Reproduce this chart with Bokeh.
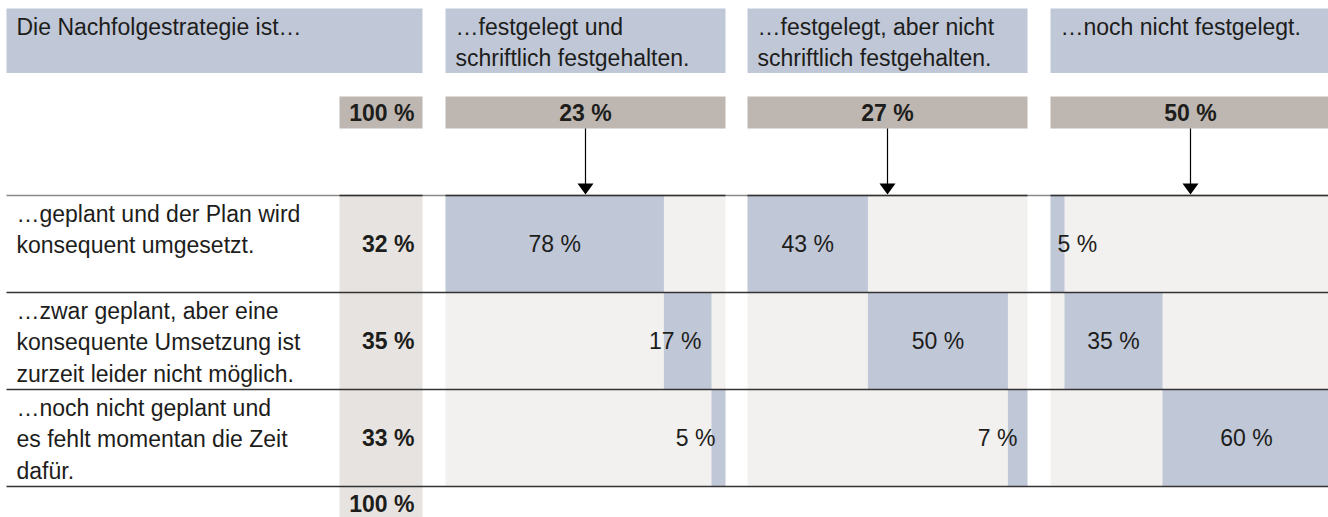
from bokeh.plotting import figure
from bokeh.models import Range1d
from bokeh.embed import file_html
from bokeh.resources import INLINE
from bokeh.core.properties import value

# ---------------- data ----------------
title_label = "Die Nachfolgestrategie ist…"
column_labels = [
    "…festgelegt und\nschriftlich festgehalten.",
    "…festgelegt, aber nicht\nschriftlich festgehalten.",
    "…noch nicht festgelegt.",
]
column_shares = [23, 27, 50]
total_share = 100
row_labels = [
    "…geplant und der Plan wird\nkonsequent umgesetzt.",
    "…zwar geplant, aber eine\nkonsequente Umsetzung ist\nzurzeit leider nicht möglich.",
    "…noch nicht geplant und\nes fehlt momentan die Zeit\ndafür.",
]
row_shares = [32, 35, 33]
values_festgelegt_schriftlich = [78, 17, 5]
values_festgelegt_nicht_schriftlich = [43, 50, 7]
values_nicht_festgelegt = [5, 35, 60]
series = [values_festgelegt_schriftlich, values_festgelegt_nicht_schriftlich, values_nicht_festgelegt]

# ---------------- layout / style ----------------
FONT = value("Liberation Sans")
FS = "23px"
TXT = "#1d1d1b"
BLUE = "#c0c7d7"
TAUPE = "#bdb6b1"
LIGHT = "#e6e3e0"
BG = "#f2f1ef"
LINE = "#333333"

W, H = 1328, 517
LEFT_X0, LEFT_X1 = 6, 422
PCT_X0 = 339
COL_LEFT = [445, 747, 1050]
COL_W = 280
SCALE = COL_W / 100.0
HEAD_Y0, HEAD_Y1 = 8, 72.5
SHARE_Y0, SHARE_Y1 = 96, 128
ROW_Y0, ROW_H = 195, 97
LINE_STEP = 31.5
FIRST_LINE = 18

def pct(v):
    return f"{v} %"

p = figure(width=W, height=H, x_range=Range1d(0, W), y_range=Range1d(H, 0),
           output_backend="svg", toolbar_location=None, min_border=0,
           x_axis_type=None, y_axis_type=None, outline_line_color=None)
p.grid.visible = False
p.background_fill_color = "white"
p.border_fill_color = "white"

# header boxes
hl = [LEFT_X0] + COL_LEFT
hr = [LEFT_X1] + [c + COL_W for c in COL_LEFT]
p.quad(left=hl, right=hr, top=[HEAD_Y0] * 4, bottom=[HEAD_Y1] * 4, fill_color=BLUE, line_color=None)

# share boxes
sl = [PCT_X0] + COL_LEFT
sr = [LEFT_X1] + [c + COL_W for c in COL_LEFT]
p.quad(left=sl, right=sr, top=[SHARE_Y0] * 4, bottom=[SHARE_Y1] * 4, fill_color=TAUPE, line_color=None)

n_rows = len(row_labels)
row_tops = [ROW_Y0 + i * ROW_H for i in range(n_rows)]
bottom_line = ROW_Y0 + n_rows * ROW_H

# light percent column
p.quad(left=[PCT_X0], right=[LEFT_X1], top=[ROW_Y0], bottom=[H], fill_color=LIGHT, line_color=None)

# column backgrounds
p.quad(left=COL_LEFT, right=[c + COL_W for c in COL_LEFT], top=[ROW_Y0] * 3, bottom=[bottom_line] * 3,
       fill_color=BG, line_color=None)

# bars (cascade)
bl, br, bt, bb = [], [], [], []
vx, vy, vt, va = [], [], [], []
for ci, vals in enumerate(series):
    cum = 0
    for ri, v in enumerate(vals):
        l = COL_LEFT[ci] + cum * SCALE
        r = COL_LEFT[ci] + (cum + v) * SCALE
        bl.append(l); br.append(r); bt.append(row_tops[ri]); bb.append(row_tops[ri] + ROW_H)
        vy.append(row_tops[ri] + ROW_H / 2)
        vt.append(pct(v))
        if v >= 30:
            vx.append((l + r) / 2); va.append("center")
        elif cum == 0:
            vx.append(l + 7); va.append("left")
        else:
            vx.append(r - 10); va.append("right")
        cum += v
p.quad(left=bl, right=br, top=bt, bottom=bb, fill_color=BLUE, line_color=None)
p.text(x=vx, y=vy, text=vt, text_align=va, text_baseline="middle", text_font=FONT,
       text_font_size=FS, text_color=TXT)

# horizontal rules
p.segment(x0=[LEFT_X0], y0=[ROW_Y0], x1=[W], y1=[ROW_Y0], line_color="#8a8a8a", line_width=1.3)
p.segment(x0=[PCT_X0] + COL_LEFT, y0=[ROW_Y0] * 4, x1=[LEFT_X1] + [c + COL_W for c in COL_LEFT],
          y1=[ROW_Y0] * 4, line_color=LINE, line_width=1.3)
ys = [ROW_Y0 + (i + 1) * ROW_H for i in range(n_rows)]
p.segment(x0=[LEFT_X0] * n_rows, y0=ys, x1=[W] * n_rows, y1=ys, line_color=LINE, line_width=1.3)

# arrows
cx = [c + COL_W / 2 for c in COL_LEFT]
p.segment(x0=cx, y0=[SHARE_Y1] * 3, x1=cx, y1=[184] * 3, line_color="black", line_width=1.2)
p.patches(xs=[[c - 8, c + 8, c] for c in cx], ys=[[183, 183, 194]] * 3, fill_color="black", line_color=None)

# multi-line label helper
def lines(x, top, label, tx, ty, tt):
    for i, ln in enumerate(label.split("\n")):
        tx.append(x); ty.append(top + FIRST_LINE + i * LINE_STEP); tt.append(ln)

tx, ty, tt = [], [], []
lines(LEFT_X0 + 10, HEAD_Y0, title_label, tx, ty, tt)
for ci, lab in enumerate(column_labels):
    lines(COL_LEFT[ci] + 10, HEAD_Y0, lab, tx, ty, tt)
for ri, lab in enumerate(row_labels):
    lines(LEFT_X0 + 10, row_tops[ri], lab, tx, ty, tt)
p.text(x=tx, y=ty, text=tt, text_align="left", text_baseline="middle", text_font=FONT,
       text_font_size=FS, text_color=TXT)

# bold shares
bx = [LEFT_X1 - 8] + [c + COL_W / 2 for c in COL_LEFT]
by = [(SHARE_Y0 + SHARE_Y1) / 2] * 4
btxt = [pct(total_share)] + [pct(s) for s in column_shares]
balign = ["right", "center", "center", "center"]
for ri, s in enumerate(row_shares):
    bx.append(LEFT_X1 - 8); by.append(row_tops[ri] + ROW_H / 2); btxt.append(pct(s)); balign.append("right")
bx.append(LEFT_X1 - 8); by.append(503); btxt.append(pct(sum(row_shares))); balign.append("right")
p.text(x=bx, y=by, text=btxt, text_align=balign, text_baseline="middle", text_font=FONT,
       text_font_size=FS, text_font_style="bold", text_color=TXT)

open("out.html", "w").write(file_html(p, INLINE))
